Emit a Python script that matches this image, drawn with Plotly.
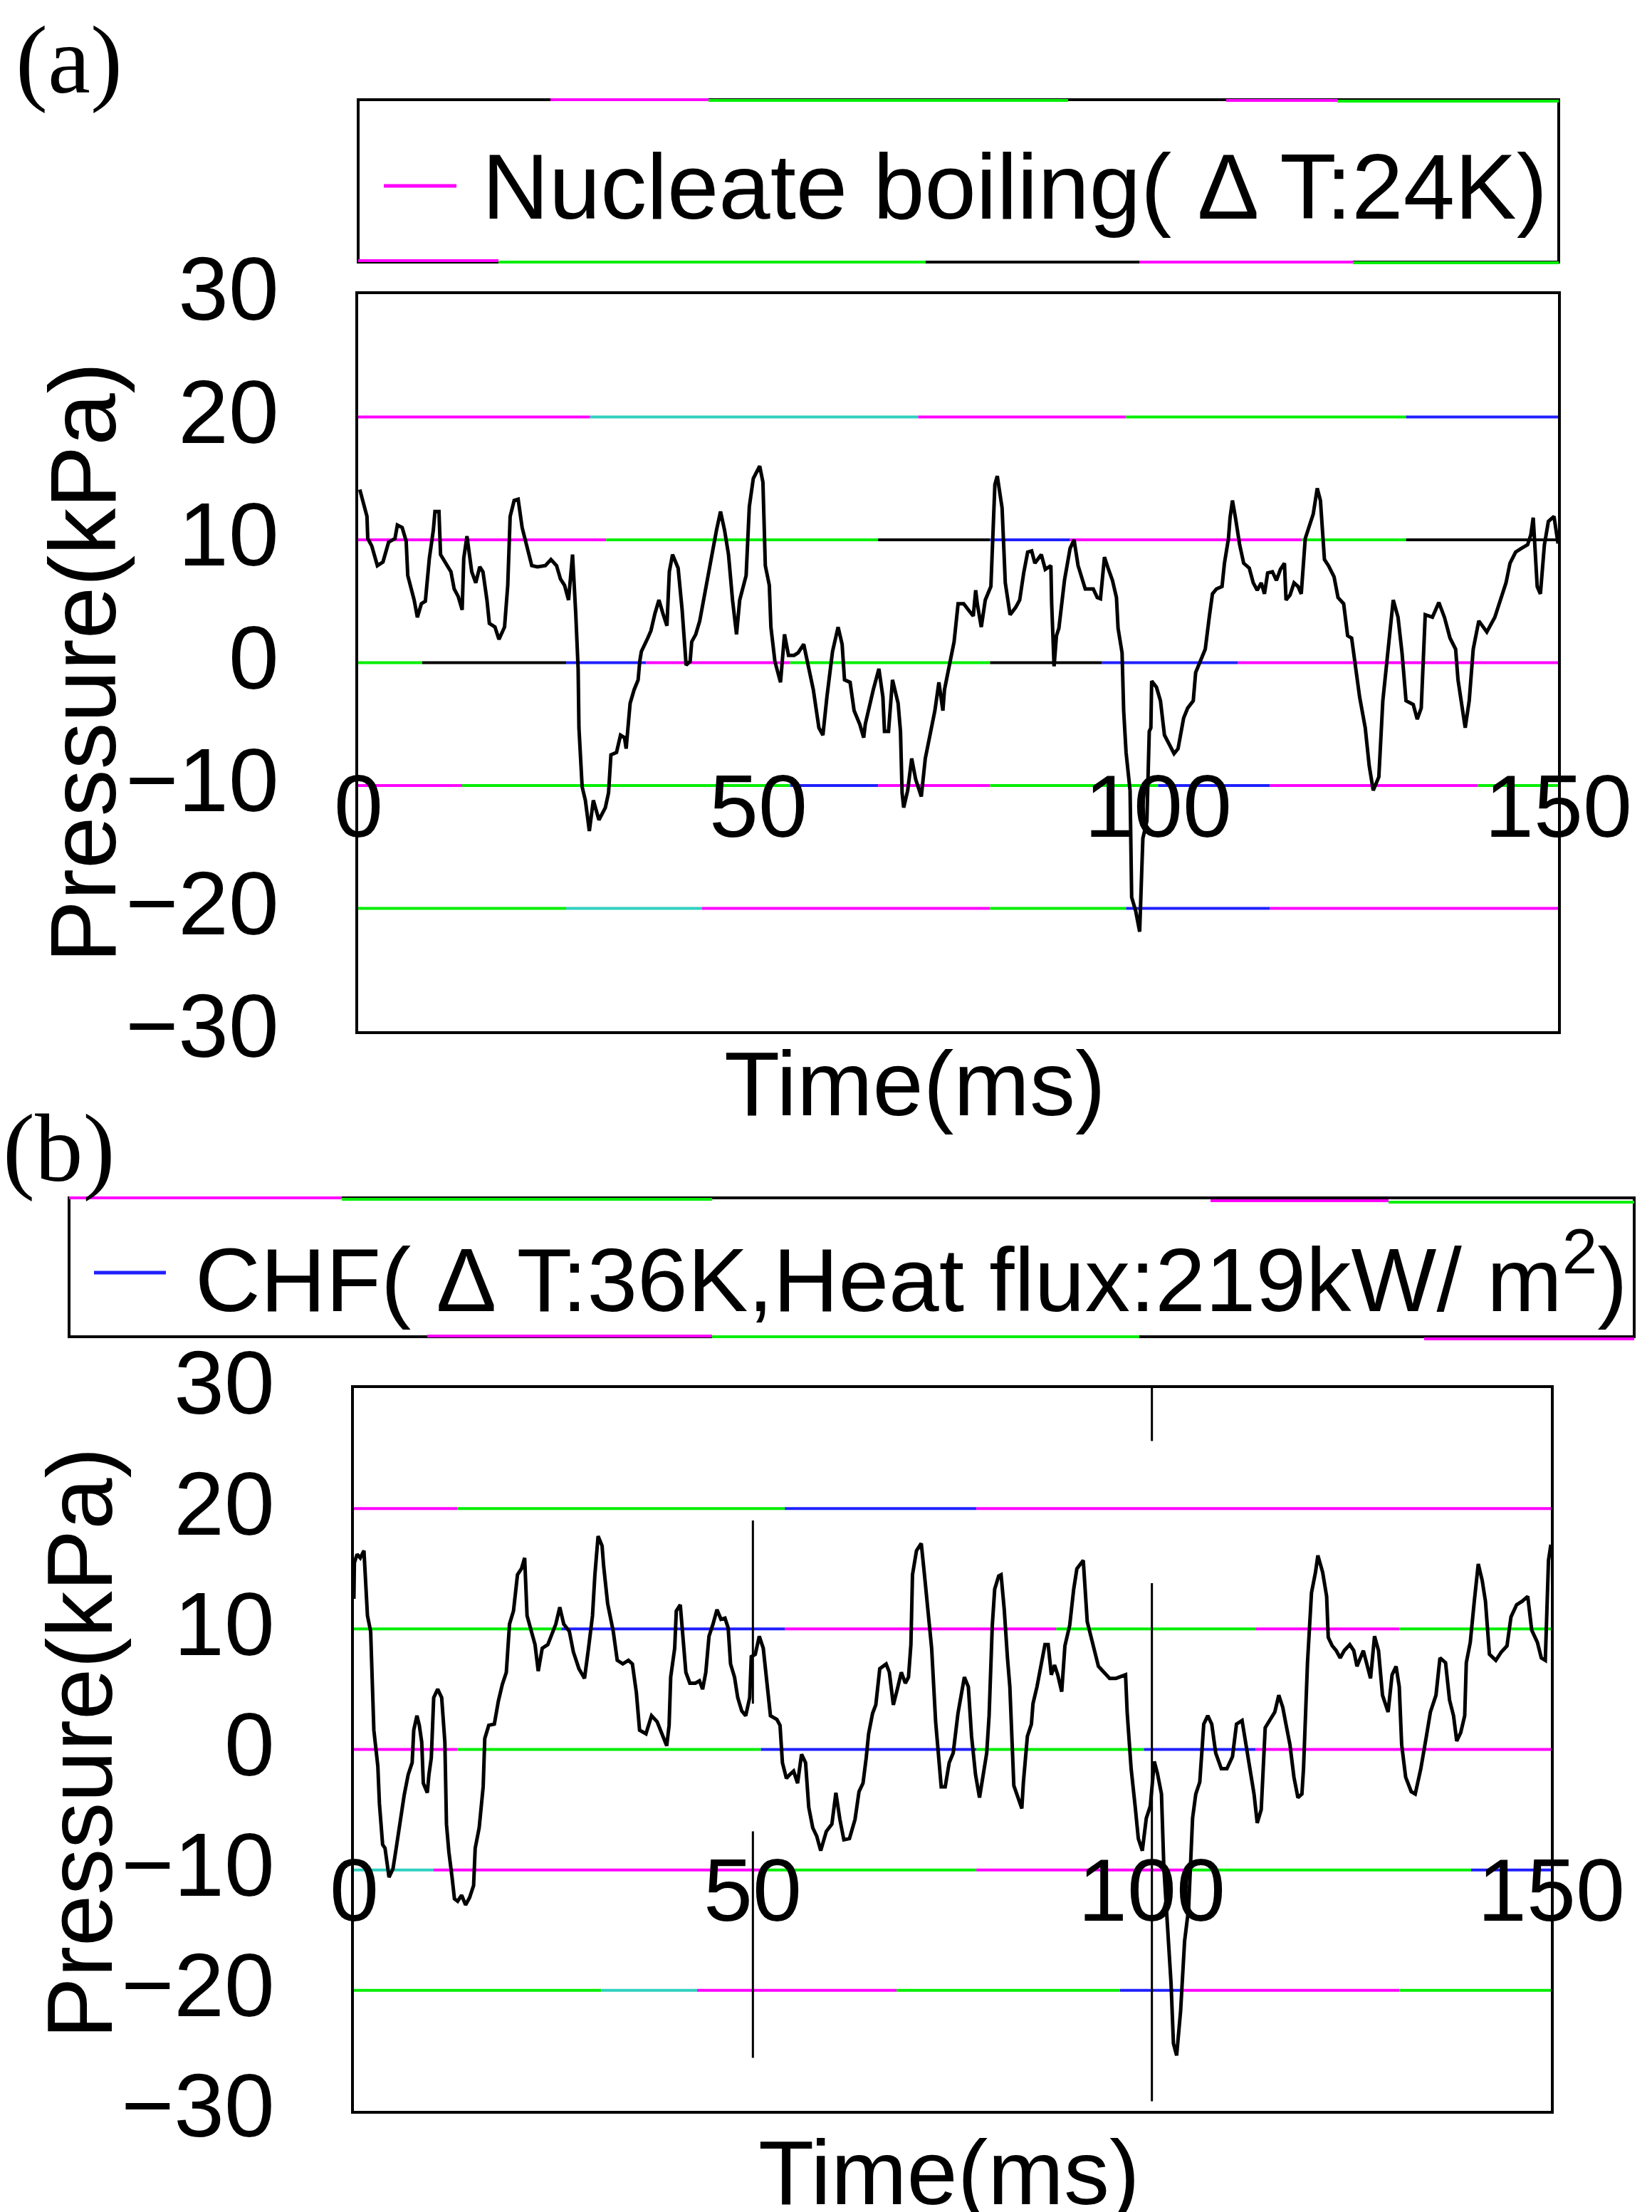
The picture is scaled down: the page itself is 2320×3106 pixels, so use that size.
import plotly.graph_objects as go

W, H = 2320, 3106

# ---------------- data ----------------
time_a = [0.2, 0.7, 1.1, 1.2, 1.7, 2.4, 3.1, 3.8, 4.6, 4.9, 5.5, 6.0, 6.2, 7.0, 7.4, 7.9, 8.4, 8.9, 9.4, 9.6,
          10.1, 10.3, 11.1, 11.6, 12.0, 12.5, 13.0, 13.2, 13.6, 14.2, 14.7, 15.2, 15.6, 16.1, 16.4, 17.1, 17.6, 18.3, 18.7, 19.0,
          19.5, 20.0, 20.5, 21.0, 21.7, 22.4, 23.4, 24.1, 24.8, 25.3, 25.8, 26.3, 26.5, 26.8, 27.2, 27.5, 27.6, 28.0, 28.4, 28.9,
          29.4, 30.1, 30.9, 31.3, 31.6, 32.3, 32.8, 33.3, 33.5, 34.0, 34.5, 35.0, 35.2, 35.4, 36.2, 36.6, 37.1, 37.6, 38.1, 38.6,
          38.9, 39.3, 40.0, 40.5, 41.0, 41.5, 41.7, 42.2, 42.7, 43.4, 44.1, 44.8, 45.3, 45.8, 46.3, 46.8, 47.3, 47.7, 48.5, 48.9,
          49.4, 50.2, 50.6, 50.9, 51.4, 51.6, 52.1, 52.8, 53.3, 53.8, 54.5, 55.0, 55.7, 56.2, 56.9, 57.6, 58.1, 58.6, 59.3, 60.0,
          60.5, 60.8, 61.5, 62.0, 62.7, 63.2, 63.4, 64.4, 65.1, 65.6, 65.8, 66.3, 66.8, 67.5, 67.8, 68.0, 68.2, 68.7, 69.2, 69.7,
          70.4, 70.9, 71.6, 72.1, 72.6, 73.1, 73.3, 74.0, 74.5, 75.0, 75.7, 76.4, 76.9, 77.2, 77.4, 77.9, 78.4, 79.1, 79.3, 79.6,
          79.9, 80.5, 80.9, 81.5, 82.2, 82.7, 83.2, 83.7, 84.2, 84.6, 85.4, 85.9, 86.6, 86.7, 87.0, 87.3, 87.6, 88.3, 89.0, 89.5,
          90.0, 90.9, 91.9, 92.4, 92.8, 93.3, 93.8, 94.3, 94.8, 95.0, 95.5, 95.7, 96.0, 96.5, 96.7, 97.2, 97.7, 98.1, 98.6, 98.9,
          99.1, 99.2, 99.8, 100.3, 100.8, 101.5, 102.0, 102.5, 103.2, 103.7, 104.4, 104.7, 105.4, 105.9, 106.4, 106.8, 107.3, 108.0, 108.3, 108.8,
          109.0, 109.3, 109.7, 110.2, 110.7, 111.4, 111.9, 112.4, 112.9, 113.3, 113.7, 114.3, 114.8, 115.3, 115.8, 116.0, 116.5, 117.0, 117.5, 117.9,
          118.4, 118.9, 119.4, 119.9, 120.3, 120.8, 121.3, 122.0, 122.5, 123.2, 123.7, 124.2, 124.7, 125.2, 125.9, 126.4, 126.9, 127.6, 128.1, 128.6,
          129.0, 129.4, 130.0, 130.5, 131.0, 131.9, 132.4, 132.9, 133.4, 134.3, 135.1, 135.8, 136.5, 137.2, 137.5, 138.0, 138.4, 138.9, 139.4, 140.1,
          141.1, 142.1, 142.8, 143.5, 144.0, 144.7, 145.4, 146.2, 146.6, 146.9, 147.1, 147.4, 147.8, 148.3, 148.8, 149.5, 150.0]
pressure_a = [14.1, 12.9, 11.9, 10.1, 9.5, 7.9, 8.2, 9.8, 10.1, 11.2, 11.0, 9.9, 7.1, 5.1, 3.7, 4.8, 5.0, 8.5, 10.8, 12.3,
              12.3, 8.8, 7.9, 7.4, 6.0, 5.4, 4.3, 8.5, 10.3, 7.4, 6.5, 7.8, 7.4, 5.1, 3.2, 2.9, 1.9, 2.9, 6.3, 11.9,
              13.2, 13.3, 11.0, 9.6, 7.9, 7.8, 7.9, 8.4, 7.9, 6.8, 6.3, 5.1, 6.5, 8.8, 4.0, -0.5, -5.3, -10.1, -11.2, -13.7,
              -11.2, -12.8, -11.8, -10.6, -7.5, -7.3, -5.9, -6.1, -7.0, -3.3, -2.2, -1.4, 0.1, 0.9, 2.0, 2.6, 4.0, 5.1, 4.0, 3.0,
              7.4, 8.8, 7.7, 4.3, -0.2, 0.1, 1.7, 2.3, 3.4, 6.0, 8.5, 10.8, 12.3, 10.8, 8.8, 5.1, 2.3, 5.1, 7.1, 12.7,
              15.0, 16.0, 14.7, 7.9, 6.3, 2.9, 0.1, -1.6, 2.3, 0.6, 0.6, 0.8, 1.5, -0.2, -2.2, -5.3, -5.9, -2.8, 0.9, 2.9,
              1.5, -1.4, -1.6, -3.9, -5.0, -6.1, -5.0, -2.2, -0.5, -2.8, -5.6, -5.6, -1.4, -3.3, -5.6, -10.6, -11.8, -10.4, -7.8, -9.5,
              -10.9, -7.8, -5.6, -3.9, -1.6, -3.9, -2.2, 0.3, 1.7, 4.8, 4.8, 4.2, 3.8, 5.9, 4.8, 2.9, 5.1, 6.2, 10.1, 14.5,
              15.2, 12.6, 6.5, 3.9, 4.5, 5.1, 7.3, 9.0, 9.1, 8.1, 8.8, 7.6, 7.9, 4.8, -0.3, 2.2, 2.8, 6.7, 9.3, 10.0,
              7.9, 6.0, 6.0, 5.3, 5.2, 8.6, 7.6, 6.7, 5.3, 2.8, 0.8, -3.9, -7.3, -10.4, -19.1, -20.2, -21.9, -14.3, -12.9, -5.6,
              -5.3, -1.5, -2.0, -3.1, -5.9, -6.7, -7.4, -7.0, -4.5, -3.7, -3.1, -0.8, 0.3, 1.1, 3.7, 5.6, 6.0, 6.2, 8.1, 10.1,
              11.8, 13.2, 11.7, 9.6, 8.1, 7.7, 6.5, 5.9, 6.5, 5.6, 7.3, 7.4, 6.7, 7.6, 8.1, 5.1, 5.5, 6.5, 6.2, 5.6,
              10.1, 11.2, 12.1, 14.2, 13.2, 8.4, 7.9, 7.0, 5.3, 4.8, 2.2, 2.0, -0.3, -2.8, -5.3, -8.4, -10.4, -9.3, -3.1, 0.3,
              2.8, 5.1, 3.7, 0.8, -3.1, -3.4, -4.6, -3.7, 3.9, 3.7, 4.9, 3.7, 2.0, 1.1, -1.4, -3.7, -5.3, -3.1, 1.1, 3.4,
              2.5, 3.7, 5.1, 6.5, 8.1, 9.0, 9.3, 9.6, 10.4, 11.8, 9.6, 6.2, 5.6, 9.6, 11.5, 11.9, 9.7]

time_b = [0.0, 0.06, 0.4, 0.8, 1.26, 1.5, 1.7, 2.1, 2.2, 2.5, 3.0, 3.2, 3.6, 3.9, 4.4, 4.9, 5.3, 5.8, 6.3, 6.8,
          7.3, 7.5, 7.9, 8.2, 8.5, 8.7, 9.2, 9.4, 9.7, 10.0, 10.5, 11.0, 11.4, 11.6, 11.9, 12.3, 12.6, 13.0, 13.5, 14.0,
          14.5, 15.0, 15.2, 15.7, 16.2, 16.4, 16.9, 17.6, 18.1, 18.6, 19.1, 19.3, 19.5, 20.0, 20.5, 21.0, 21.4, 21.7, 22.2, 22.7,
          23.1, 23.6, 24.3, 24.8, 25.3, 25.8, 26.3, 27.0, 27.5, 28.2, 28.9, 29.4, 29.9, 30.2, 30.6, 31.1, 31.3, 31.8, 32.5, 33.0,
          33.7, 34.4, 34.9, 35.4, 35.8, 36.6, 37.3, 38.0, 38.8, 39.2, 39.5, 39.7, 40.2, 40.4, 40.9, 41.4, 41.6, 42.1, 42.8, 43.3,
          43.7, 44.1, 44.5, 45.0, 45.5, 46.0, 46.5, 46.9, 47.2, 47.7, 48.1, 48.6, 49.1, 49.6, 49.8, 50.3, 50.8, 51.3, 51.7, 52.2,
          53.0, 53.4, 53.7, 54.2, 54.6, 55.1, 55.6, 56.1, 56.6, 57.0, 57.5, 58.0, 58.5, 59.2, 59.9, 60.4, 60.9, 61.4, 62.1, 62.8,
          63.3, 63.8, 64.2, 64.5, 65.0, 65.4, 65.9, 66.7, 67.1, 67.6, 68.1, 68.6, 69.1, 69.5, 69.8, 70.0, 70.5, 71.1, 71.5, 71.9,
          72.4, 72.9, 73.6, 74.1, 74.6, 75.1, 75.7, 76.5, 77.0, 77.4, 77.9, 78.4, 78.9, 79.3, 79.6, 80.0, 80.3, 80.8, 81.1, 81.5,
          81.9, 82.2, 82.7, 83.2, 83.7, 83.9, 84.4, 84.9, 85.1, 85.6, 86.1, 86.6, 87.0, 87.4, 87.8, 88.2, 88.7, 89.1, 89.7, 90.2,
          90.6, 91.4, 91.9, 92.6, 93.3, 94.0, 94.7, 95.5, 96.7, 96.9, 97.4, 97.9, 98.3, 98.8, 99.3, 99.8, 100.3, 100.7, 101.2, 101.5,
          102.0, 102.4, 102.7, 103.1, 103.6, 104.1, 104.6, 105.1, 105.5, 106.0, 106.5, 107.0, 107.5, 108.0, 108.7, 109.4, 110.1, 110.6, 111.3, 111.8,
          112.3, 112.8, 113.2, 113.7, 114.2, 114.7, 115.4, 115.9, 116.4, 116.8, 117.3, 117.8, 118.3, 118.8, 119.0, 119.5, 119.7, 120.0, 120.5, 120.8,
          121.4, 121.9, 122.1, 122.6, 123.1, 123.6, 124.1, 124.8, 125.3, 125.7, 126.5, 126.9, 127.4, 127.9, 128.4, 128.9, 129.6, 130.1, 130.6, 131.0,
          131.3, 131.8, 132.5, 133.0, 133.7, 134.4, 134.9, 135.6, 136.1, 136.8, 137.3, 137.8, 138.2, 138.7, 139.2, 139.4, 139.9, 140.4, 140.9, 141.4,
          141.8, 142.3, 143.1, 143.8, 144.5, 145.0, 145.7, 146.4, 147.1, 147.6, 148.3, 148.8, 149.3, 149.7, 150.0]
pressure_b = [12.5, 15.5, 16.2, 15.9, 16.5, 13.8, 11.1, 9.8, 8.1, 1.6, -1.4, -4.5, -7.9, -8.2, -10.6, -9.9, -8.2, -5.8, -3.8, -2.1,
              -1.1, 1.6, 2.8, 2.0, 0.6, -2.8, -3.6, -2.1, -0.7, 4.3, 5.0, 4.3, 0.6, -6.2, -8.5, -10.6, -12.4, -12.6, -12.1, -12.9,
              -12.3, -11.3, -8.2, -6.5, -3.1, 0.9, 2.0, 2.1, 4.0, 5.4, 6.4, 8.4, 10.4, 11.5, 14.5, 15.0, 15.9, 11.1, 9.8, 8.7,
              6.5, 8.4, 8.7, 9.6, 10.4, 11.8, 10.4, 9.8, 8.1, 6.7, 5.9, 8.4, 11.1, 14.5, 17.7, 16.9, 15.2, 12.1, 9.8, 7.4,
              7.1, 7.4, 7.1, 4.7, 1.6, 1.3, 2.8, 2.3, 0.9, 0.3, 2.0, 6.0, 8.4, 11.5, 12.0, 7.7, 6.4, 5.5, 5.5, 5.7,
              5.0, 6.4, 9.4, 10.4, 11.6, 10.8, 10.9, 10.1, 7.1, 6.0, 4.3, 3.2, 2.8, 4.3, 7.7, 7.9, 9.4, 8.4, 5.7, 2.8,
              2.5, 2.0, -1.1, -2.4, -2.1, -1.8, -2.8, -0.4, -1.1, -4.8, -6.5, -7.2, -8.4, -6.8, -6.2, -3.6, -5.8, -7.5, -7.4, -5.8,
              -3.5, -2.8, -0.7, 1.3, 3.0, 3.7, 6.7, 7.1, 6.4, 3.7, 5.0, 6.4, 5.5, 6.0, 8.7, 14.5, 16.5, 17.1, 14.5, 11.8,
              8.4, 2.3, -3.1, -3.1, -1.1, -0.3, 3.0, 6.0, 5.2, 1.1, -2.1, -4.0, -2.0, -0.3, 2.8, 10.3, 13.3, 14.4, 14.5, 11.6,
              7.6, 5.2, -3.0, -4.0, -4.9, -2.7, 1.1, 2.1, 3.8, 5.2, 6.9, 8.7, 8.7, 6.2, 7.0, 6.2, 4.8, 8.6, 10.3, 13.3,
              15.0, 15.7, 10.6, 8.6, 6.9, 6.4, 5.9, 5.9, 6.2, 3.1, -1.6, -4.7, -7.4, -8.4, -5.7, -4.7, -1.0, -2.0, -3.7, -9.8,
              -14.9, -19.4, -24.4, -25.4, -21.7, -15.9, -13.2, -5.7, -3.7, -2.7, 2.1, 2.8, 2.1, -0.3, -1.6, -1.6, -0.6, 2.1, 2.4, 0.4,
              -1.3, -3.7, -6.1, -5.0, 1.8, 2.4, 3.1, 4.5, 3.5, 2.1, 0.4, -2.3, -4.0, -3.7, -1.6, 7.2, 9.9, 13.0, 14.7, 16.1,
              14.7, 12.7, 9.3, 8.6, 8.2, 7.6, 8.2, 8.7, 8.2, 6.9, 8.2, 7.2, 5.9, 9.4, 8.2, 4.5, 3.1, 6.2, 6.9, 5.2,
              0.4, -2.3, -3.5, -3.7, -1.6, 1.1, 3.1, 4.5, 7.6, 7.2, 4.1, 2.8, 0.7, 1.4, 2.8, 7.2, 8.9, 12.3, 15.4, 14.0,
              12.3, 7.9, 7.4, 8.1, 8.6, 11.0, 12.0, 12.3, 12.7, 9.9, 8.9, 7.6, 7.4, 15.7, 17.0]

y_tick_values = [-30, -20, -10, 0, 10, 20, 30]
grid_levels = [-20, -10, 0, 10, 20]
x_tick_values = [0, 50, 100, 150]
x_tick_labels = ["0", "50", "100", "150"]
legend_a = "Nucleate boiling( Δ T:24K)"
legend_b = "CHF( Δ T:36K,Heat flux:219kW/ m<sup>2</sup>)"
x_title = "Time(ms)"
y_title = "Pressure(kPa)"

# ---------------- styling ----------------
MAG, GRN, BLU, BLK, TEAL = "#ff00ff", "#00ee00", "#2020ff", "#000000", "#30d0c0"
SANS = "Liberation Sans, Arial, sans-serif"
SERIF = "Liberation Serif, Times New Roman, serif"

# colour breaks of the scanned gridlines (start, end, colour) per level
grid_colours_a = {
    20: [(0, 29, MAG), (29, 70, TEAL), (70, 96, MAG), (96, 131, GRN), (131, 150, BLU)],
    10: [(0, 31, MAG), (31, 65, GRN), (65, 79, BLK), (79, 89, BLU), (89, 118, MAG), (118, 131, GRN), (131, 150, BLK)],
    0: [(0, 8, GRN), (8, 26, BLK), (26, 36, BLU), (36, 54, MAG), (54, 79, GRN), (79, 93, BLK), (93, 110, BLU), (110, 150, MAG)],
    -10: [(0, 13, MAG), (13, 54, GRN), (54, 65, BLU), (65, 79, MAG), (79, 100, GRN), (100, 114, BLU), (114, 140, MAG), (140, 150, GRN)],
    -20: [(0, 26, GRN), (26, 43, TEAL), (43, 79, MAG), (79, 96, GRN), (96, 114, BLU), (114, 150, MAG)],
}
grid_colours_b = {
    20: [(0, 13, MAG), (13, 54, GRN), (54, 78, BLU), (78, 150, MAG)],
    10: [(0, 26, GRN), (26, 54, BLU), (54, 88, MAG), (88, 113, GRN), (113, 131, MAG), (131, 150, GRN)],
    0: [(0, 13, MAG), (13, 51, GRN), (51, 78, BLU), (78, 99, GRN), (99, 113, BLU), (113, 150, MAG)],
    -10: [(0, 10, TEAL), (10, 51, MAG), (51, 78, GRN), (78, 104, MAG), (104, 140, GRN), (140, 150, BLU)],
    -20: [(0, 31, GRN), (31, 43, TEAL), (43, 68, MAG), (68, 96, GRN), (96, 104, BLU), (104, 131, MAG), (131, 150, GRN)],
}

# pixel geometry
A_X0, A_X1, A_Y0, A_Y1 = 503, 2188, 413, 1448
B_X0, B_X1, B_Y0, B_Y1 = 497, 2178, 1949, 2964


def px(x):
    return x / W


def py(y):
    return 1 - y / H


fig = go.Figure()
fig.add_trace(go.Scatter(x=time_a, y=pressure_a, mode="lines", line=dict(color="black", width=5),
                         xaxis="x", yaxis="y", showlegend=False, hoverinfo="skip"))
fig.add_trace(go.Scatter(x=time_b, y=pressure_b, mode="lines", line=dict(color="black", width=5),
                         xaxis="x2", yaxis="y2", showlegend=False, hoverinfo="skip"))

axis_common = dict(showline=True, mirror=True, linecolor="black", linewidth=4, showgrid=False,
                   zeroline=False, ticks="", automargin=False)
yaxis_common = dict(axis_common, range=[-30, 30], tickvals=y_tick_values,
                    tickfont=dict(family=SANS, size=127, color="black"), ticklabelstandoff=82,
                    ticklabelshift=-8)
xaxis_common = dict(axis_common, range=[0, 150], showticklabels=False)

fig.update_layout(
    width=W, height=H, margin=dict(l=0, r=0, t=0, b=0, autoexpand=False),
    paper_bgcolor="white", plot_bgcolor="white",
    xaxis=dict(xaxis_common, domain=[px(A_X0), px(A_X1)], anchor="y"),
    yaxis=dict(yaxis_common, domain=[py(A_Y1), py(A_Y0)], anchor="x"),
    xaxis2=dict(xaxis_common, domain=[px(B_X0), px(B_X1)], anchor="y2"),
    yaxis2=dict(yaxis_common, domain=[py(B_Y1), py(B_Y0)], anchor="x2"),
)

shapes = []
for xr, yr, colours in (("x", "y", grid_colours_a), ("x2", "y2", grid_colours_b)):
    for lvl in grid_levels:
        for x0, x1, c in colours[lvl]:
            shapes.append(dict(type="line", xref=xr, yref=yr, x0=x0, x1=x1, y0=lvl, y1=lvl,
                               line=dict(color=c, width=4), layer="below"))

# partial vertical lines in panel (b)
for x, y0, y1 in ((50, 19, 3.8), (50, -6.8, -25.6), (100, 30, 25.6), (100, 13.8, -29.2)):
    shapes.append(dict(type="line", xref="x2", yref="y2", x0=x, x1=x, y0=y0, y1=y1,
                       line=dict(color="black", width=3), layer="below"))

# legend boxes
for (x0, y0, x1, y1) in ((503, 140, 2189, 368), (97, 1682, 2295, 1877)):
    shapes.append(dict(type="rect", xref="paper", yref="paper", x0=px(x0), x1=px(x1), y0=py(y1), y1=py(y0),
                       line=dict(color="black", width=4), fillcolor="rgba(0,0,0,0)"))
# coloured tints on legend borders
for (x0, x1, y, c) in ((773, 995, 140, MAG), (995, 1500, 141, GRN), (1722, 1878, 141, MAG), (1878, 2189, 142, GRN),
                       (503, 700, 366, MAG), (700, 1300, 368, GRN), (1600, 1900, 368, MAG), (1900, 2189, 369, GRN),
                       (97, 480, 1682, MAG), (480, 1000, 1684, GRN), (1700, 1950, 1686, MAG), (1950, 2295, 1688, GRN),
                       (600, 1000, 1876, MAG), (1000, 1600, 1877, GRN), (2000, 2295, 1880, MAG)):
    shapes.append(dict(type="line", xref="paper", yref="paper", x0=px(x0), x1=px(x1), y0=py(y), y1=py(y),
                       line=dict(color=c, width=4)))
# legend samples
shapes.append(dict(type="line", xref="paper", yref="paper", x0=px(539), x1=px(641), y0=py(261), y1=py(261),
                   line=dict(color=MAG, width=5)))
shapes.append(dict(type="line", xref="paper", yref="paper", x0=px(132), x1=px(233), y0=py(1787), y1=py(1787),
                   line=dict(color=BLU, width=5)))
fig.update_layout(shapes=shapes)

ann = []
ann.append(dict(text=legend_a, xref="paper", yref="paper", x=px(675), y=py(262), xanchor="left", yanchor="middle",
                showarrow=False, font=dict(family=SANS, size=130, color="black")))
ann.append(dict(text=legend_b, xref="paper", yref="paper", x=px(272), y=py(1788), xanchor="left", yanchor="middle",
                showarrow=False, font=dict(family=SANS, size=127, color="black")))
for xr, yr in (("x", "y"), ("x2", "y2")):
    for xv, lab in zip(x_tick_values, x_tick_labels):
        ann.append(dict(text=lab, xref=xr, yref=yr, x=xv, y=-11.7, xanchor="center", yanchor="middle",
                        showarrow=False, font=dict(family=SANS, size=124, color="black")))
# axis titles
ann.append(dict(text=x_title, xref="paper", yref="paper", x=px(1285), y=py(1521), xanchor="center", yanchor="middle",
                showarrow=False, font=dict(family=SANS, size=128, color="black")))
ann.append(dict(text=x_title, xref="paper", yref="paper", x=px(1333), y=py(3050), xanchor="center", yanchor="middle",
                showarrow=False, font=dict(family=SANS, size=128, color="black")))
ann.append(dict(text=y_title, xref="paper", yref="paper", x=px(116), y=py(930), xanchor="center", yanchor="middle",
                textangle=-90, showarrow=False, font=dict(family=SANS, size=132, color="black")))
ann.append(dict(text=y_title, xref="paper", yref="paper", x=px(112), y=py(2448), xanchor="center", yanchor="middle",
                textangle=-90, showarrow=False, font=dict(family=SANS, size=130, color="black")))
# panel labels
ann.append(dict(text="(a)", xref="paper", yref="paper", x=px(20), y=py(84), xanchor="left", yanchor="middle",
                showarrow=False, font=dict(family=SERIF, size=135, color="black")))
ann.append(dict(text="(b)", xref="paper", yref="paper", x=px(2), y=py(1612), xanchor="left", yanchor="middle",
                showarrow=False, font=dict(family=SERIF, size=135, color="black")))
fig.update_layout(annotations=ann)

fig.write_html("out.html")
